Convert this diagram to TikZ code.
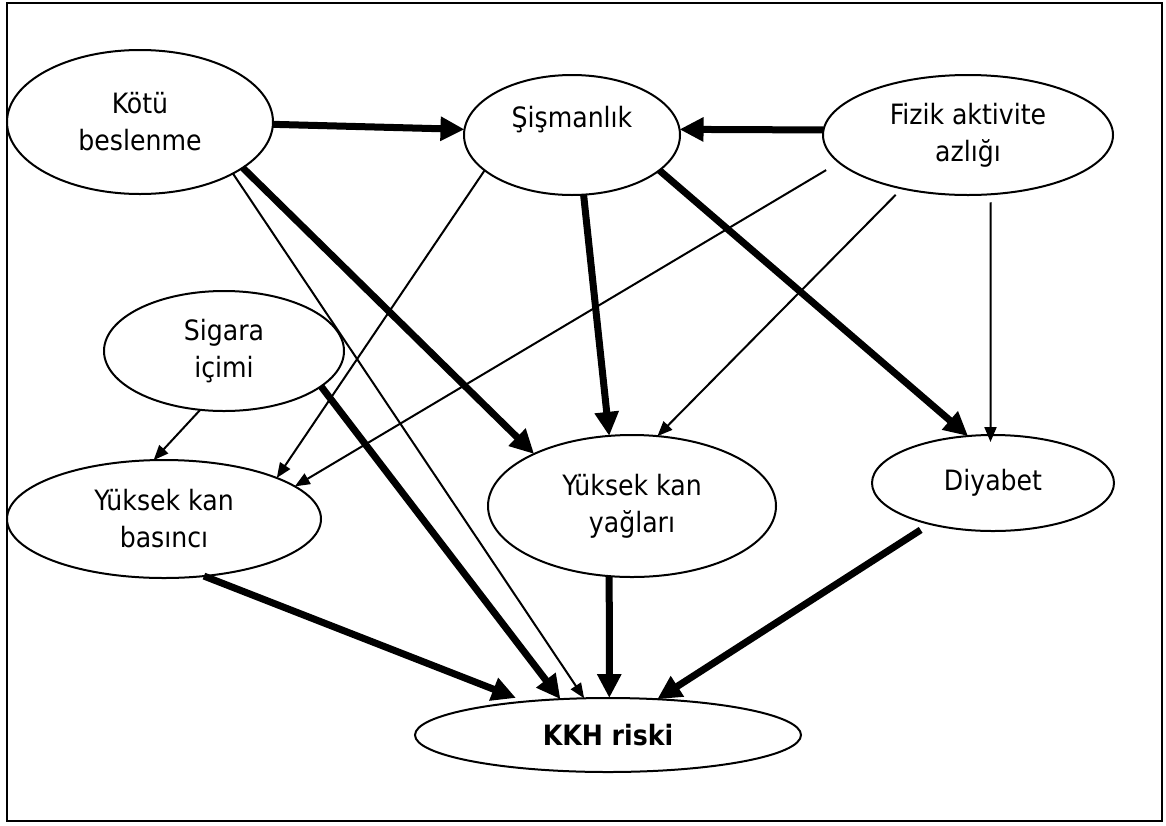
\documentclass[tikz,border=0pt]{standalone}
\usepackage{fontspec}
\setmainfont{DejaVu Sans Condensed}
\usetikzlibrary{arrows.meta,shapes.geometric}
\begin{document}
\begin{tikzpicture}[x=1pt,y=-1pt,
  oval/.style={ellipse, draw, line width=2pt, inner sep=0pt, outer sep=0pt, align=center, font=\fontsize{28}{37}\selectfont},
  thickarr/.style={line width=7pt, -{Triangle[length=24pt,width=23pt]}},
  thinarr/.style={line width=2pt, -{Triangle[length=15pt,width=12pt]}}]
\useasboundingbox (0,0) rectangle (1166,825);
\draw[line width=2.5pt] (7,3) rectangle (1162,821);

\node[oval, minimum width=266pt, minimum height=144pt] (kotu) at (140,122) {Kötü\\beslenme};
\node[oval, minimum width=216pt, minimum height=120pt] (sis) at (572,135) {Şişmanlık\\\mbox{}};
\node[oval, minimum width=290pt, minimum height=120pt] (fiz) at (968,135) {Fizik aktivite\\azlığı};
\node[oval, minimum width=240pt, minimum height=120pt] (sig) at (224,351) {Sigara\\içimi};
\node[oval, minimum width=314pt, minimum height=118pt] (bas) at (164,519) {Yüksek kan\\basıncı};
\node[oval, minimum width=288pt, minimum height=142pt] (yag) at (632,506) {Yüksek kan\\yağları};
\node[oval, minimum width=242pt, minimum height=96pt] (diy) at (993,483) {Diyabet};
\node[oval, minimum width=386pt, minimum height=74pt, font=\fontsize{28}{37}\selectfont\bfseries] (kkh) at (608,735) {KKH riski};

\draw[thickarr] (kotu.-1) -- (sis.177);
\draw[thickarr] (fiz.178) -- (sis.3);
\draw[thickarr] (kotu.-24.4) -- (yag.152.9);
\draw[thinarr] (kotu.-29.5) -- (kkh.123.2);
\draw[thinarr] (sis.202.6) -- (bas.20.3);
\draw[thickarr] (sis.-79.6) -- (yag.108.9);
\draw[thickarr] (sis.-22.4) -- (diy.118);
\draw[thinarr, shorten <=15pt] (fiz.192) -- (bas.14.6);
\draw[thinarr, shorten <=9pt] (fiz.219.7) -- (yag.70.3);
\draw[thinarr, shorten <=8pt, shorten >=-7pt] (fiz.-69.6) -- (diy.93.6);
\draw[thinarr] (sig.248.7) -- (bas.100.6);
\draw[thickarr] (sig.-20.2) -- (kkh.143.3);
\draw[thickarr, shorten >=10pt] (bas.-55.7) -- (kkh.158.9);
\draw[thickarr] (yag.-108.2) -- (kkh.88.5);
\draw[thickarr, shorten <=11pt] (diy.-147.2) -- (kkh.36.2);
\end{tikzpicture}
\end{document}
